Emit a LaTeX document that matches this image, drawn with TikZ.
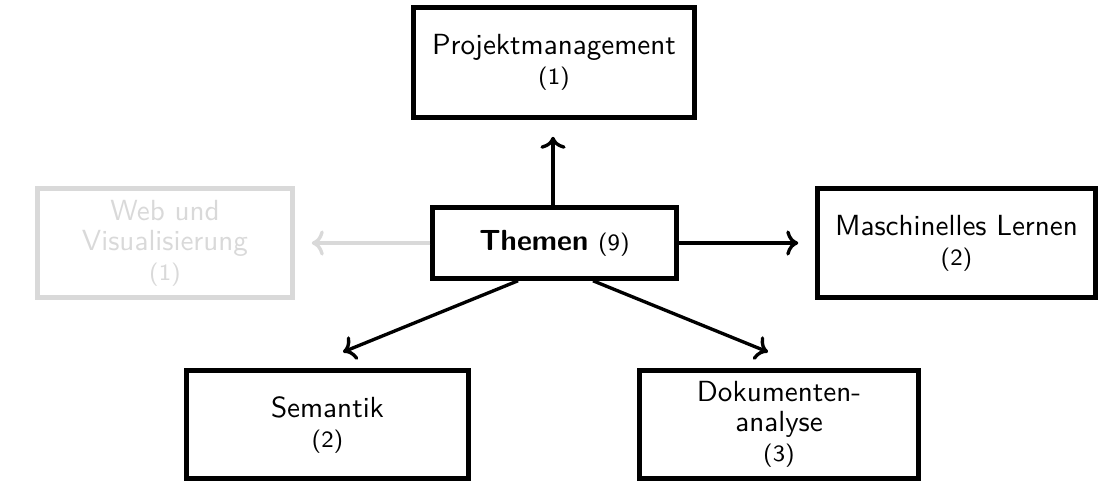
\documentclass[tikz,border=0pt]{standalone}
\usetikzlibrary{arrows.meta}
\begin{document}
\begin{tikzpicture}[x=0.3436pt,y=-0.3436pt,
  font=\sffamily\fontsize{10}{10.3}\selectfont,
  topic/.style={draw, line width=1.55pt, align=center, inner sep=0pt},
  faded/.style={topic, draw=black!15, text=black!15},
  conn/.style={line width=1.15pt, ->}]
\newcommand{\cnt}[1]{{\footnotesize(#1)}}
\useasboundingbox (0,0) rectangle (1108,483);
\node[topic, minimum width=281*0.3436pt, minimum height=110*0.3436pt] (proj) at (554,62.5) {Projektmanagement\\\cnt{1}};
\node[topic, minimum width=244*0.3436pt, minimum height=71*0.3436pt] (them) at (554.5,243) {\textbf{Themen} \cnt{9}};
\node[faded, minimum width=255*0.3436pt, minimum height=109*0.3436pt] (web) at (165,243) {Web und\\Visualisierung\\\cnt{1}};
\node[topic, minimum width=278*0.3436pt, minimum height=109*0.3436pt] (ml) at (956.5,243) {Maschinelles Lernen\\\cnt{2}};
\node[topic, minimum width=282*0.3436pt, minimum height=108*0.3436pt] (sem) at (327.5,424.5) {Semantik\\\cnt{2}};
\node[topic, minimum width=279*0.3436pt, minimum height=108*0.3436pt] (dok) at (779,424.5) {Dokumenten-\\analyse\\\cnt{3}};
\coordinate (semend) at (343,352);
\coordinate (dokend) at (768,352);
\draw[conn] (them.north -| 553,0) -- ([yshift=-17*0.3436pt]proj.south -| 553,0);
\draw[conn] (them.east) -- ([xshift=-17*0.3436pt]ml.west);
\draw[conn, draw=black!15] (them.west) -- ([xshift=17*0.3436pt]web.east);
\draw[conn] ([xshift=-36.5*0.3436pt]them.south) -- (semend);
\draw[conn] ([xshift=38.5*0.3436pt]them.south) -- (dokend);
\end{tikzpicture}
\end{document}
